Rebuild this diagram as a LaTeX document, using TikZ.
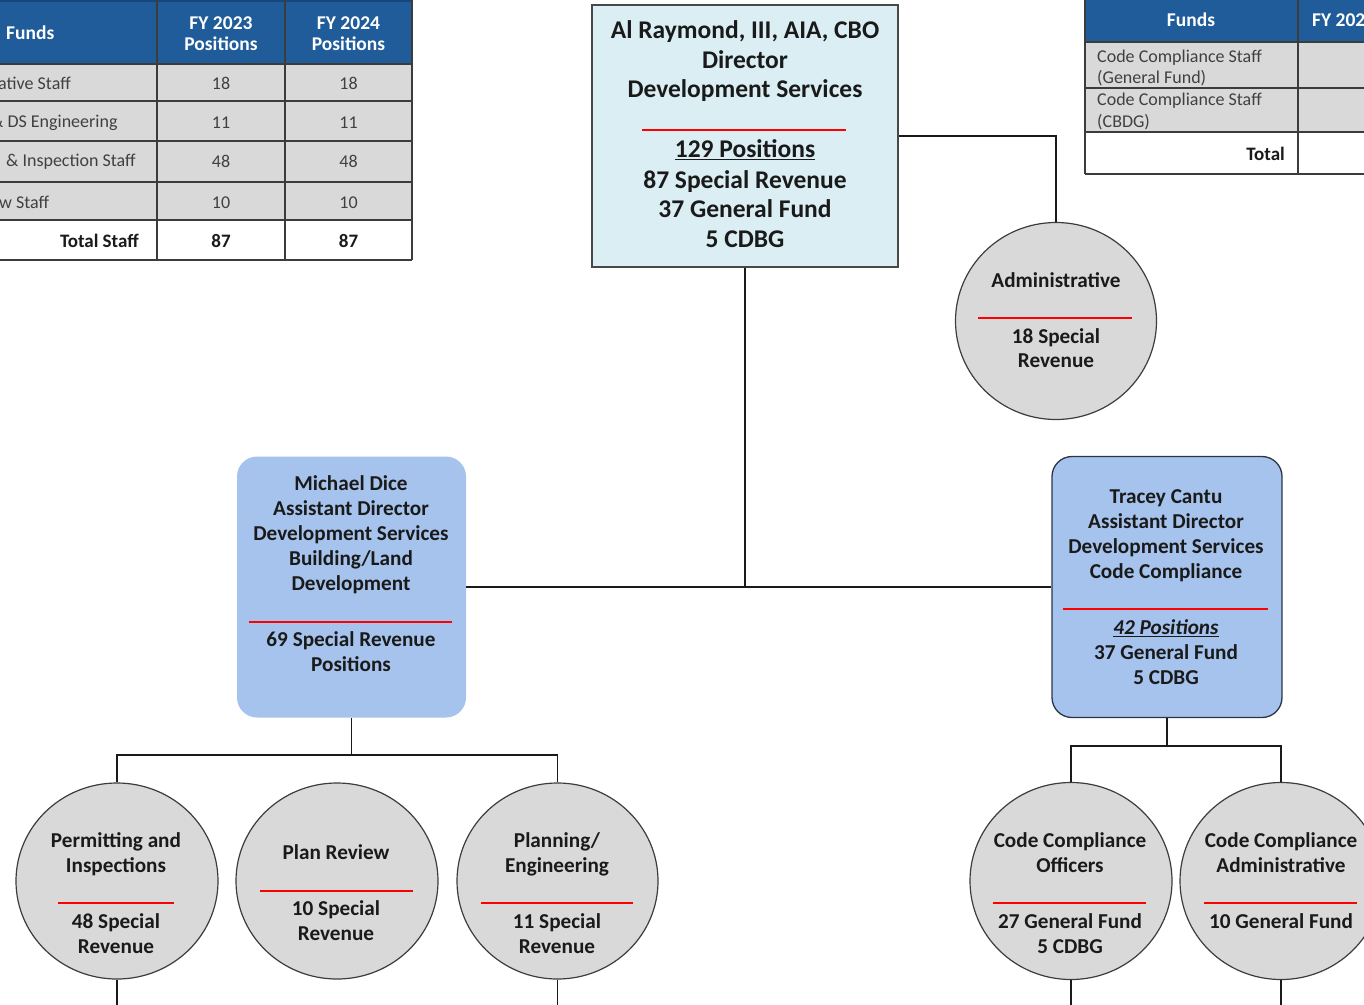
\documentclass[tikz,border=0pt]{standalone}
\usepackage{fontspec}
\setmainfont{Carlito}
\usetikzlibrary{shapes.geometric}
\definecolor{hdrblue}{HTML}{1F5C99}
\definecolor{hdrtop}{HTML}{17477A}
\definecolor{dirfill}{HTML}{DAEEF3}
\definecolor{asfill}{HTML}{A5C3EC}
\definecolor{cfill}{HTML}{D9D9D9}
\definecolor{rowg}{HTML}{D9D9D9}
\definecolor{ink}{HTML}{1A1A1A}
\definecolor{tgray}{HTML}{404040}
\definecolor{ruler}{HTML}{FF0000}
\definecolor{tborder}{HTML}{2B3548}
\begin{document}
\begin{tikzpicture}[x=1pt,y=-1pt,
  conn/.style={draw=ink, line width=1.3pt},
  redrule/.style={draw=ruler, line width=2.8pt},
  tline/.style={draw=ink!85, line width=1.8pt},
  tlineb/.style={draw=ink!85, line width=1.4pt},
  dtxt/.style={font=\fontsize{25.5}{29}\selectfont\bfseries, text=ink, inner sep=0, anchor=mid, yshift=-5pt},
  atxt/.style={font=\fontsize{21.2}{25}\selectfont\bfseries, text=ink, inner sep=0, anchor=mid, yshift=-4pt},
  ttxt/.style={font=\fontsize{18}{21}\selectfont, text=tgray, inner sep=0, anchor=mid, yshift=-4pt},
  tbold/.style={font=\fontsize{19}{21}\selectfont\bfseries, text=ink, inner sep=0, anchor=mid, yshift=-4pt},
  htxt/.style={font=\fontsize{19.5}{21}\selectfont\bfseries, text=white, inner sep=0, anchor=mid, yshift=-4pt},
  circ/.style={ellipse, draw=ink!85, line width=1.2pt, fill=cfill, inner sep=0},
  asbox/.style={rectangle, rounded corners=20pt, fill=asfill, inner sep=0},
]
\useasboundingbox (0,0) rectangle (1364,1004);
\begin{scope}
\clip (0,0) rectangle (1364,1004);

% ---------------- left table ----------------
\fill[hdrblue] (-5,0) rectangle (412,64);
\fill[rowg] (-5,64) rectangle (412,220);
\fill[white] (-5,220) rectangle (412,260);
\draw[hdrtop, line width=2.5pt] (-5,1) -- (412,1);
\foreach \yy in {64,101,141,182,220,260} \draw[tline] (-5,\yy) -- (412,\yy);
\foreach \xx in {157,285,412} \draw[tline] (\xx,0) -- (\xx,260);
\node[htxt, anchor=mid west] (lt0) at (6,33) {Funds};
\node[htxt] (lt1) at (221,23) {FY 2023};
\node[htxt] (lt2) at (221,44) {Positions};
\node[htxt] (lt3) at (348.5,23) {FY 2024};
\node[htxt] (lt4) at (348.5,44) {Positions};
\node[ttxt, anchor=mid west] (lr1) at (-2,83) {ative Staff};
\node[ttxt, anchor=mid west] (lr2) at (-9,121) {\& DS Engineering};
\node[ttxt, anchor=mid west] (lr3) at (6,160) {\& Inspection Staff};
\node[ttxt, anchor=mid west] (lr4) at (-1,202) {w Staff};
\node[tbold, anchor=mid east] (lr5) at (139,241) {Total Staff};
\node[ttxt] (la1) at (221,83) {18};
\node[ttxt] (lb1) at (348.5,83) {18};
\node[ttxt] (la2) at (221,122) {11};
\node[ttxt] (lb2) at (348.5,122) {11};
\node[ttxt] (la3) at (221,161) {48};
\node[ttxt] (lb3) at (348.5,161) {48};
\node[ttxt] (la4) at (221,202) {10};
\node[ttxt] (lb4) at (348.5,202) {10};
\node[tbold] (la5) at (221,241) {87};
\node[tbold] (lb5) at (348.5,241) {87};

% ---------------- right table ----------------
\fill[hdrblue] (1085,-2) rectangle (1370,42);
\fill[rowg] (1085,42) rectangle (1370,132);
\fill[white] (1085,132) rectangle (1370,174);
\foreach \yy in {42,88,132,174} \draw[tlineb] (1085,\yy) -- (1370,\yy);
\foreach \xx in {1085,1298} \draw[tlineb] (\xx,-2) -- (\xx,174);
\node[htxt] (rt0) at (1191,20) {Funds};
\node[htxt, anchor=mid west] (rt1) at (1312,20) {FY 2023};
\node[ttxt, anchor=mid west] (rr1) at (1097,56) {Code Compliance Staff};
\node[ttxt, anchor=mid west] (rr2) at (1097,77) {(General Fund)};
\node[ttxt, anchor=mid west] (rr3) at (1097,99) {Code Compliance Staff};
\node[ttxt, anchor=mid west] (rr4) at (1097,121) {(CBDG)};
\node[tbold, anchor=mid east] (rr5) at (1285,154) {Total};

% ---------------- shapes ----------------
\node[rectangle, draw=ink!80, line width=1.4pt, fill=dirfill, minimum width=306pt, minimum height=262pt, inner sep=0] (dir) at (745,136) {};
\node[circ, minimum width=201pt, minimum height=197pt] (admin) at (1056,321) {};
\node[asbox, minimum width=229pt, minimum height=261pt] (mike) at (351.5,587) {};
\node[asbox, draw=tborder, line width=1.3pt, minimum width=230pt, minimum height=261pt] (tracey) at (1167,587) {};
\node[circ, minimum width=202pt, minimum height=196pt] (perm) at (117,881) {};
\node[circ, minimum width=202pt, minimum height=196pt] (plan) at (337,881) {};
\node[circ, minimum width=201pt, minimum height=196pt] (plng) at (557.5,881) {};
\node[circ, minimum width=202pt, minimum height=197pt] (cco) at (1071,881) {};
\node[circ, minimum width=202pt, minimum height=197pt] (cca) at (1281,881) {};

% ---------------- connectors ----------------
\coordinate (hub) at (745,587);
\coordinate (mhub) at (351.5,755);
\coordinate (thub) at (1167,746);
\coordinate (pbot) at (117,1010);
\coordinate (gbot) at (557.5,1010);
\coordinate (obot) at (1071,1010);
\coordinate (abot) at (1281,1010);
\draw[conn] (dir.east) -| (admin.north);
\draw[conn] (dir.south) -- (hub);
\draw[conn] (mike.east) -- (tracey.west);
\draw[conn] (mike.south) -- (mhub);
\draw[conn] (perm.north) |- (mhub) -| (plng.north);
\draw[conn] (tracey.south) -- (thub);
\draw[conn] (cco.north) |- (thub) -| (cca.north);
\draw[conn] (perm.south) -- (pbot);
\draw[conn] (plng.south) -- (gbot);
\draw[conn] (cco.south) -- (obot);
\draw[conn] (cca.south) -- (abot);

% ---------------- director text ----------------
\node[dtxt] (d1) at (745,31) {Al Raymond, III, AIA, CBO};
\node[dtxt] (d2) at (745,61) {Director};
\node[dtxt] (d3) at (745,90) {Development Services};
\draw[redrule] (642,130) -- (846,130);
\node[dtxt] (d4) at (745,150) {\underline{129 Positions}};
\node[dtxt] (d5) at (745,181) {87 Special Revenue};
\node[dtxt] (d6) at (745,210) {37 General Fund};
\node[dtxt] (d7) at (745,240) {5 CDBG};

% ---------------- administrative ----------------
\node[atxt] (a1) at (1056,281) {Administrative};
\draw[redrule] (978,318) -- (1132,318);
\node[atxt] (a2) at (1056,337) {18 Special};
\node[atxt] (a3) at (1056,361) {Revenue};

% ---------------- Michael Dice ----------------
\node[atxt] (m1) at (351,484) {Michael Dice};
\node[atxt] (m2) at (351,509) {Assistant Director};
\node[atxt] (m3) at (351,534) {Development Services};
\node[atxt] (m4) at (351,559) {Building/Land};
\node[atxt] (m5) at (351,584) {Development};
\draw[redrule] (249,622) -- (452,622);
\node[atxt] (m6) at (351,640) {69 Special Revenue};
\node[atxt] (m7) at (351,665) {Positions};

% ---------------- Tracey Cantu ----------------
\node[atxt] (c1) at (1166,497) {Tracey Cantu};
\node[atxt] (c2) at (1166,522) {Assistant Director};
\node[atxt] (c3) at (1166,547) {Development Services};
\node[atxt] (c4) at (1166,572) {Code Compliance};
\draw[redrule] (1063,609) -- (1268,609);
\node[atxt] (c5) at (1166,628) {\underline{\textit{42 Positions}}};
\node[atxt] (c6) at (1166,653) {37 General Fund};
\node[atxt] (c7) at (1166,678) {5 CDBG};

% ---------------- bottom circles ----------------
\node[atxt] (p1) at (116,841) {Permitting and};
\node[atxt] (p2) at (116,866) {Inspections};
\draw[redrule] (58,903) -- (174,903);
\node[atxt] (p3) at (116,922) {48 Special};
\node[atxt] (p4) at (116,947) {Revenue};

\node[atxt] (r1) at (336,853) {Plan Review};
\draw[redrule] (260,891) -- (413,891);
\node[atxt] (r2) at (336,909) {10 Special};
\node[atxt] (r3) at (336,934) {Revenue};

\node[atxt] (g1) at (557,841) {Planning/};
\node[atxt] (g2) at (557,866) {Engineering};
\draw[redrule] (481,903) -- (633,903);
\node[atxt] (g3) at (557,922) {11 Special};
\node[atxt] (g4) at (557,947) {Revenue};

\node[atxt] (o1) at (1070,841) {Code Compliance};
\node[atxt] (o2) at (1070,866) {Officers};
\draw[redrule] (993,903) -- (1146,903);
\node[atxt] (o3) at (1070,922) {27 General Fund};
\node[atxt] (o4) at (1070,947) {5 CDBG};

\node[atxt] (s1) at (1281,841) {Code Compliance};
\node[atxt] (s2) at (1281,866) {Administrative};
\draw[redrule] (1204,903) -- (1357,903);
\node[atxt] (s3) at (1281,922) {10 General Fund};
\end{scope}
\end{tikzpicture}
\end{document}
